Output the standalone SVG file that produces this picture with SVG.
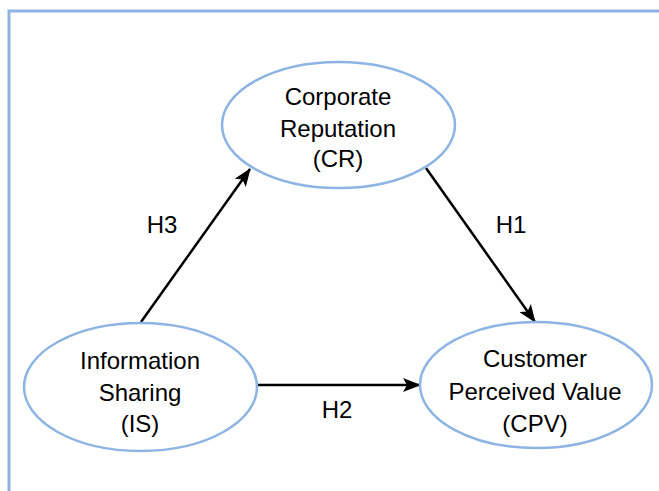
<svg xmlns="http://www.w3.org/2000/svg" width="659" height="491" viewBox="0 0 659 491">
<style>
.frame{stroke:#8DB4E2;stroke-width:3;fill:none}
.node{fill:#fff;stroke:#8DB4E2;stroke-width:2.5}
.lbl{font-family:"Liberation Sans",Arial,sans-serif;font-size:24px;fill:#000;text-anchor:middle}
.edge{stroke:#000;stroke-width:2.5;fill:none;marker-end:url(#ah)}
</style>
<defs>
<marker id="ah" markerUnits="userSpaceOnUse" markerWidth="18" markerHeight="14" refX="17" refY="7" orient="auto">
<path d="M0,0 L18,7 L0,14 L4,7 Z" fill="#000"/>
</marker>
</defs>
<rect width="659" height="491" fill="#fff"/>
<path class="frame" d="M9,491 V11 H659"/>
<g id="connectors">
<line class="edge" x1="141" y1="322" x2="250" y2="169"/>
<line class="edge" x1="426" y1="168" x2="535" y2="322"/>
<line class="edge" x1="258" y1="385" x2="420" y2="385"/>
<text class="lbl" x="162" y="233">H3</text>
<text class="lbl" x="511" y="233">H1</text>
<text class="lbl" x="337" y="418">H2</text>
</g>
<g id="CR">
<ellipse class="node" cx="338.5" cy="125" rx="116.5" ry="63"/>
<text class="lbl" x="338" y="105">Corporate</text>
<text class="lbl" x="338" y="137">Reputation</text>
<text class="lbl" x="338" y="167">(CR)</text>
</g>
<g id="IS">
<ellipse class="node" cx="140.5" cy="387" rx="116.5" ry="64"/>
<text class="lbl" x="140" y="369">Information</text>
<text class="lbl" x="140" y="401">Sharing</text>
<text class="lbl" x="140" y="432">(IS)</text>
</g>
<g id="CPV">
<ellipse class="node" cx="536" cy="385" rx="116" ry="63"/>
<text class="lbl" x="535" y="367">Customer</text>
<text class="lbl" x="535" y="400">Perceived Value</text>
<text class="lbl" x="535" y="432">(CPV)</text>
</g>
</svg>
